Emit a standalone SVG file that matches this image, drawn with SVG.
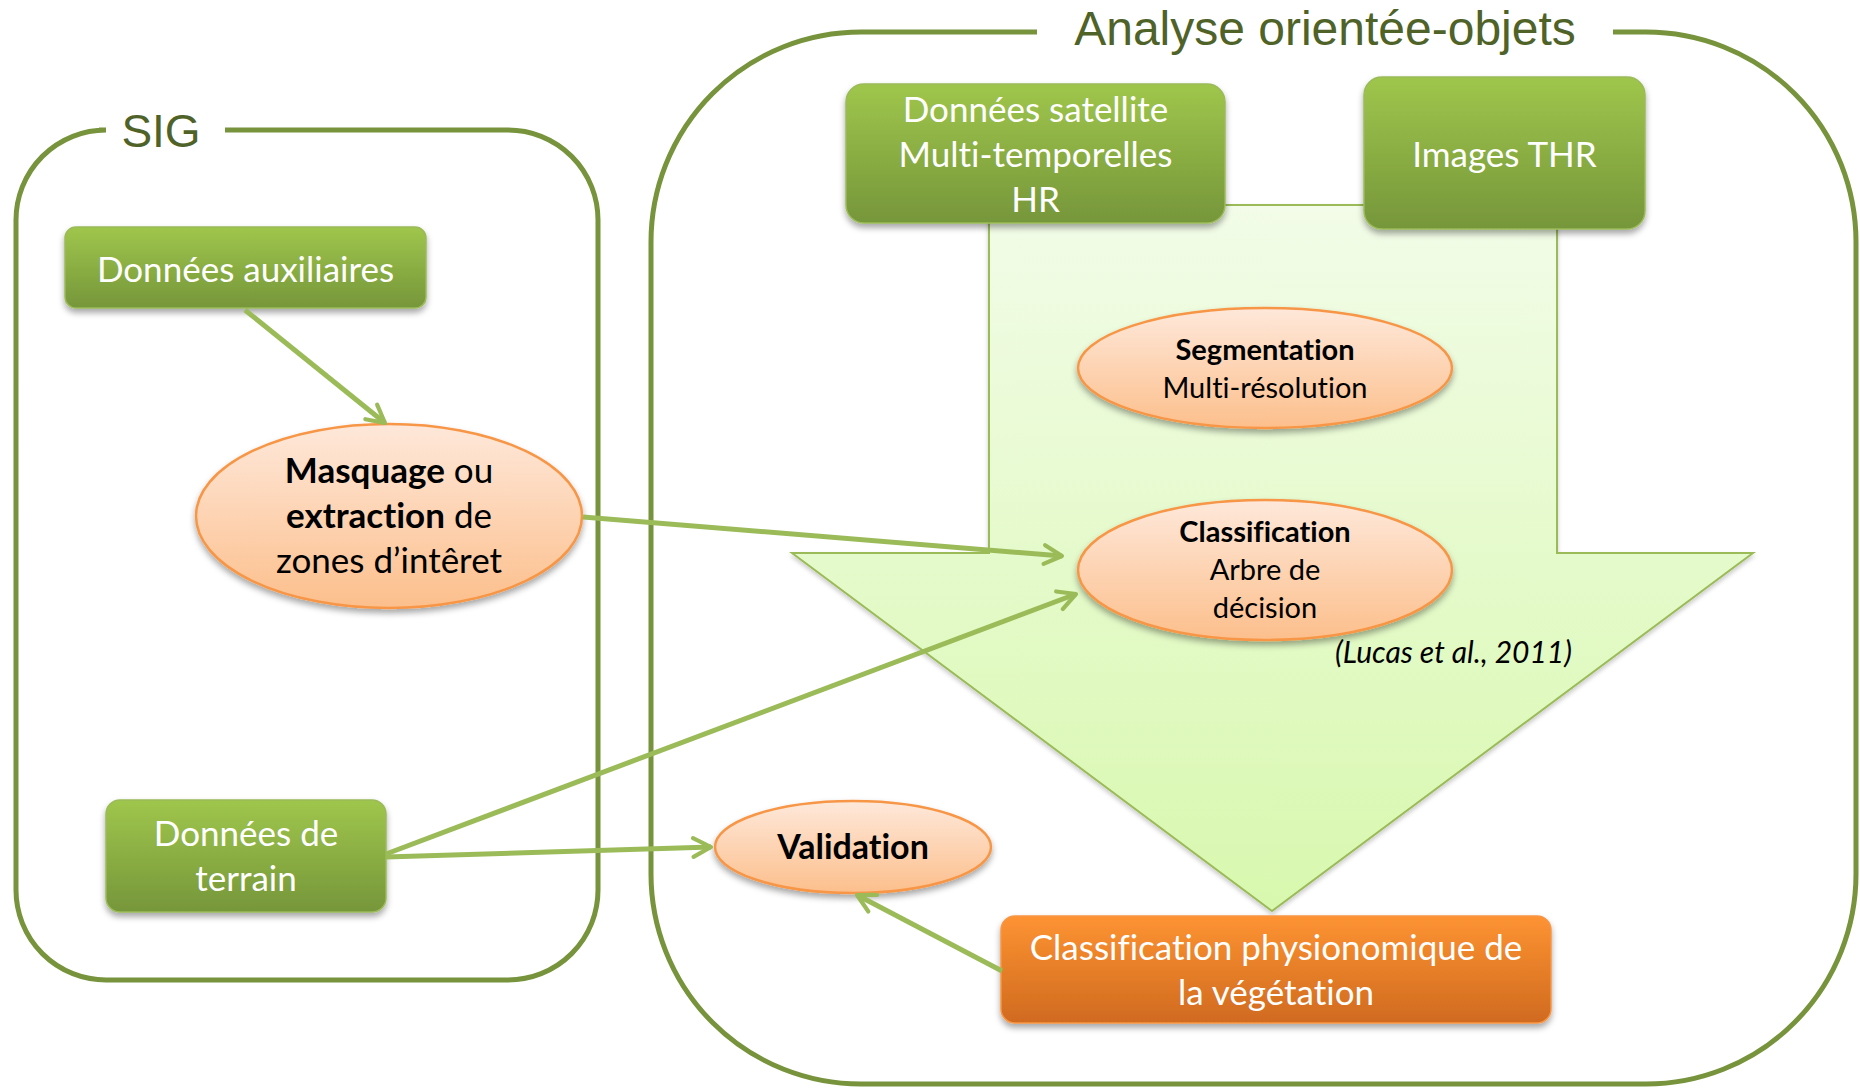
<svg xmlns="http://www.w3.org/2000/svg" width="1860" height="1088" viewBox="0 0 1860 1088">
<defs>
<style>
text{font-variant-ligatures:none}
.frame{fill:none;stroke:#77933c;stroke-width:5}
.title{font-family:"Liberation Sans",Arial,sans-serif;fill:#4f6228}
.gbox{fill:url(#gG);stroke:#9bbb59;stroke-width:1.5;filter:url(#sh)}
.obox{fill:url(#gO);stroke:#f79646;stroke-width:1.5;filter:url(#sh)}
.ell{fill:url(#gE);stroke:#f79646;stroke-width:2.5;filter:url(#sh)}
.wt{font-family:Lato,"Open Sans",sans-serif;font-size:35px;fill:#ffffff;text-anchor:middle}
.bt{font-family:Lato,"Open Sans",sans-serif;fill:#000000;text-anchor:middle}
.b{font-weight:bold}
.con{fill:none;stroke:#9bbb59;stroke-width:5;marker-end:url(#ah)}
</style>
<linearGradient id="gG" x1="0" y1="0" x2="0" y2="1"><stop offset="0" stop-color="#9fc64c"/><stop offset="1" stop-color="#76963a"/></linearGradient>
<linearGradient id="gO" x1="0" y1="0" x2="0" y2="1"><stop offset="0" stop-color="#fd9332"/><stop offset="1" stop-color="#d06a1f"/></linearGradient>
<linearGradient id="gE" x1="0" y1="0" x2="0" y2="1"><stop offset="0" stop-color="#fee8da"/><stop offset="1" stop-color="#fcbf8c"/></linearGradient>
<linearGradient id="gA" x1="0" y1="0" x2="0" y2="1"><stop offset="0" stop-color="#f2fce8"/><stop offset="1" stop-color="#d8f8ae"/></linearGradient>
<filter id="sh" x="-10%" y="-10%" width="120%" height="140%"><feDropShadow dx="0" dy="4" stdDeviation="3" flood-color="#000" flood-opacity="0.35"/></filter>
<filter id="sh2" x="-5%" y="-5%" width="110%" height="110%"><feDropShadow dx="0" dy="3" stdDeviation="2" flood-color="#000" flood-opacity="0.2"/></filter>
<marker id="ah" viewBox="0 0 12 12" refX="10.5" refY="6" markerWidth="5" markerHeight="5" orient="auto" markerUnits="strokeWidth">
<path d="M2,1.5 L10.5,6 L2,10.5" fill="none" stroke="#9bbb59" stroke-width="2" stroke-linecap="round" stroke-linejoin="round"/>
</marker>
</defs>
<rect width="1860" height="1088" fill="#ffffff"/>

<g id="sig-frame">
<path class="frame" d="M225,130 H508 A90 90 0 0 1 598 220 V890 A90 90 0 0 1 508 980 H106 A90 90 0 0 1 16 890 V220 A90 90 0 0 1 106 130 H99"/>
<text class="title" x="161" y="147" font-size="46" text-anchor="middle">SIG</text>
</g>

<g id="analyse-frame">
<path class="frame" d="M1613,32 H1646 A210 210 0 0 1 1856 242 V874 A210 210 0 0 1 1646 1084 H861 A210 210 0 0 1 651 874 V242 A210 210 0 0 1 861 32 H1037"/>
<text class="title" x="1325" y="45" font-size="48" text-anchor="middle">Analyse orientée-objets</text>
</g>

<g id="process-arrow">
<polygon points="989,205 1557,205 1557,553 1753,553 1272,911 792,553 989,553" fill="url(#gA)" stroke="#9bbb59" stroke-width="2" filter="url(#sh2)"/>
</g>

<g id="donnees-auxiliaires">
<rect class="gbox" x="65" y="227" width="361" height="81" rx="11"/>
<text class="wt" x="245.5" y="282">Données auxiliaires</text>
</g>

<g id="donnees-satellite">
<rect class="gbox" x="846" y="84" width="379" height="139" rx="18"/>
<text class="wt" x="1035.5" y="122">Données satellite</text>
<text class="wt" x="1035.5" y="167">Multi-temporelles</text>
<text class="wt" x="1035.5" y="212">HR</text>
</g>

<g id="images-thr">
<rect class="gbox" x="1364" y="77" width="281" height="152" rx="18"/>
<text class="wt" x="1504.5" y="167">Images THR</text>
</g>

<g id="donnees-terrain">
<rect class="gbox" x="106" y="800" width="280" height="112" rx="14"/>
<text class="wt" x="246" y="846">Données de</text>
<text class="wt" x="246" y="891">terrain</text>
</g>

<g id="classification-physio">
<rect class="obox" x="1001" y="916" width="550" height="107" rx="14"/>
<text class="wt" x="1276" y="960">Classification physionomique de</text>
<text class="wt" x="1276" y="1005">la végétation</text>
</g>

<g id="masquage">
<ellipse class="ell" cx="389" cy="516" rx="193" ry="92"/>
<text class="bt" font-size="35" x="389" y="483"><tspan class="b">Masquage</tspan> ou</text>
<text class="bt" font-size="35" x="389" y="528"><tspan class="b">extraction</tspan> de</text>
<text class="bt" font-size="35" x="389" y="573">zones d’intêret</text>
</g>

<g id="segmentation">
<ellipse class="ell" cx="1265" cy="368" rx="187" ry="60"/>
<text class="bt b" font-size="29" x="1265" y="360">Segmentation</text>
<text class="bt" font-size="29" x="1265" y="398">Multi-résolution</text>
</g>

<g id="classification">
<ellipse class="ell" cx="1265" cy="570" rx="187" ry="70"/>
<text class="bt b" font-size="29" x="1265" y="542">Classification</text>
<text class="bt" font-size="29" x="1265" y="580">Arbre de</text>
<text class="bt" font-size="29" x="1265" y="618">décision</text>
</g>

<g id="citation">
<text font-family="Lato,'Open Sans',sans-serif" font-size="30" font-style="italic" fill="#000" text-anchor="end" x="1572" y="663">(Lucas et al., 2011)</text>
</g>

<g id="validation">
<ellipse class="ell" cx="853" cy="847" rx="138" ry="46"/>
<text class="bt b" font-size="34" x="853" y="859">Validation</text>
</g>

<g id="connectors">
<line class="con" x1="245" y1="310" x2="385" y2="423"/>
<line class="con" x1="583" y1="517" x2="1062" y2="556"/>
<line class="con" x1="386" y1="854" x2="1076" y2="594"/>
<line class="con" x1="386" y1="857" x2="711" y2="847"/>
<line class="con" x1="1002" y1="971" x2="857" y2="895"/>
</g>
</svg>
